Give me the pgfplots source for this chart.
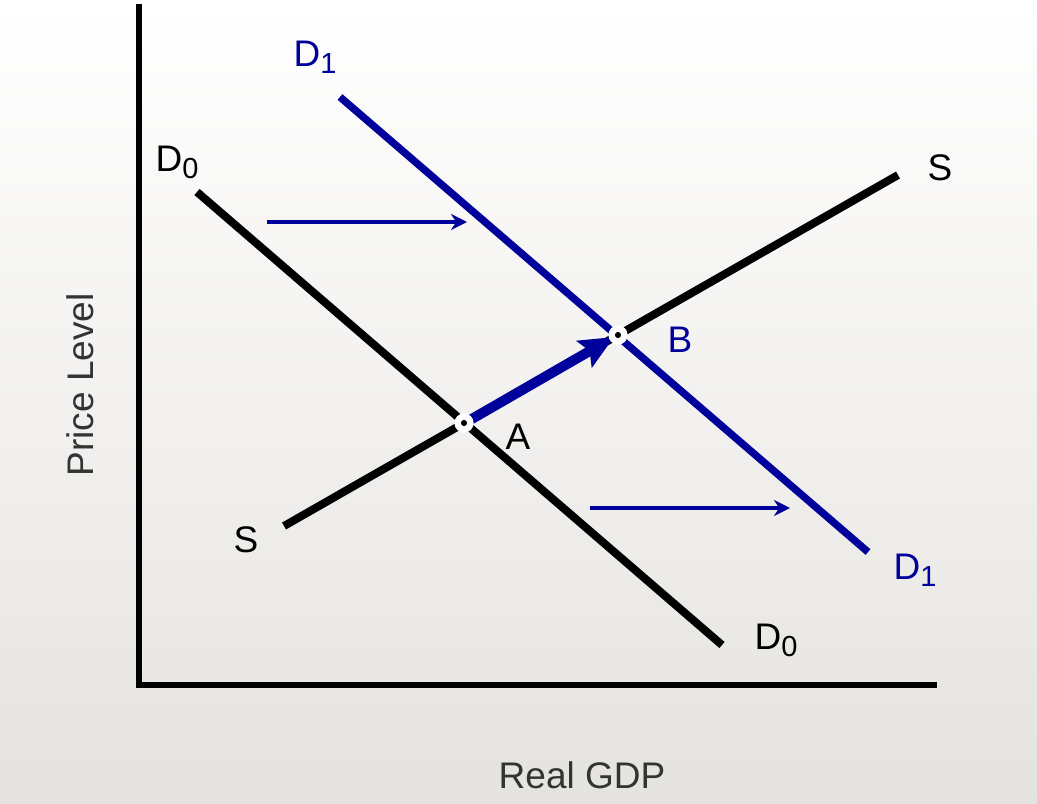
\documentclass[border=0pt]{standalone}
\usepackage{pgfplots}
\pgfplotsset{compat=1.18}
\usepackage{fontspec}
\setmainfont{Liberation Sans}
\usetikzlibrary{arrows.meta}
\definecolor{dblue}{RGB}{0,0,155}
\definecolor{bgbot}{RGB}{229,227,223}
\newcommand{\sub}[1]{\raisebox{-0.35ex}{\fontsize{14.5}{14.5}\selectfont #1}}
\tikzset{lab/.style={font=\fontsize{18.5}{21}\selectfont, inner sep=0pt}}
\begin{document}
\begin{tikzpicture}
\begin{axis}[
  scale only axis, width=518.5pt, height=401.5pt,
  xmin=0, xmax=1037, ymin=0, ymax=803, y dir=reverse,
  hide axis, clip=false,
]
\fill[top color=white, bottom color=bgbot] (axis cs:0,0) rectangle (axis cs:1037,803);
% axes
\addplot[black, line width=3.2pt, line cap=butt] coordinates {(139,4) (139,688)};
\addplot[black, line width=3.2pt] coordinates {(137,685) (937,685)};
% D0
\addplot[black, line width=4pt] coordinates {(197,192) (722,645)};
% S
\addplot[black, line width=4pt] coordinates {(284,526) (898,175)};
% D1
\addplot[dblue, line width=3.7pt] coordinates {(340,97) (868,552)};
% shift arrows
\addplot[dblue, line width=1.6pt, -{Stealth[length=8pt,width=8pt]}] coordinates {(267,222) (467,222)};
\addplot[dblue, line width=1.6pt, -{Stealth[length=8pt,width=8pt]}] coordinates {(590,508) (790,508)};
% movement arrow
\addplot[dblue, line width=5pt, -{Stealth[length=17pt,width=15pt,inset=3pt]}] coordinates {(470,420) (614,337)};
% equilibrium points
\addplot[only marks, mark=*, mark size=4.6pt, mark options={fill=white, draw=white}] coordinates {(464,423) (618,335)};
\addplot[only marks, mark=*, mark size=1.3pt, mark options={fill=black, draw=none}] coordinates {(464,423) (618,335)};
% labels
\node[lab, dblue] at (axis cs:315,57) {D\sub{1}};
\node[lab] at (axis cs:177,162) {D\sub{0}};
\node[lab] at (axis cs:940,168) {S};
\node[lab, dblue] at (axis cs:680,340) {B};
\node[lab] at (axis cs:518,437) {A};
\node[lab] at (axis cs:246,540) {S};
\node[lab, dblue] at (axis cs:915,570) {D\sub{1}};
\node[lab] at (axis cs:776,640) {D\sub{0}};
\node[lab, rotate=90, text=black!80] at (axis cs:80,385) {Price Level};
\node[lab, text=black!80] at (axis cs:582,775) {Real GDP};
\end{axis}
\end{tikzpicture}
\end{document}
